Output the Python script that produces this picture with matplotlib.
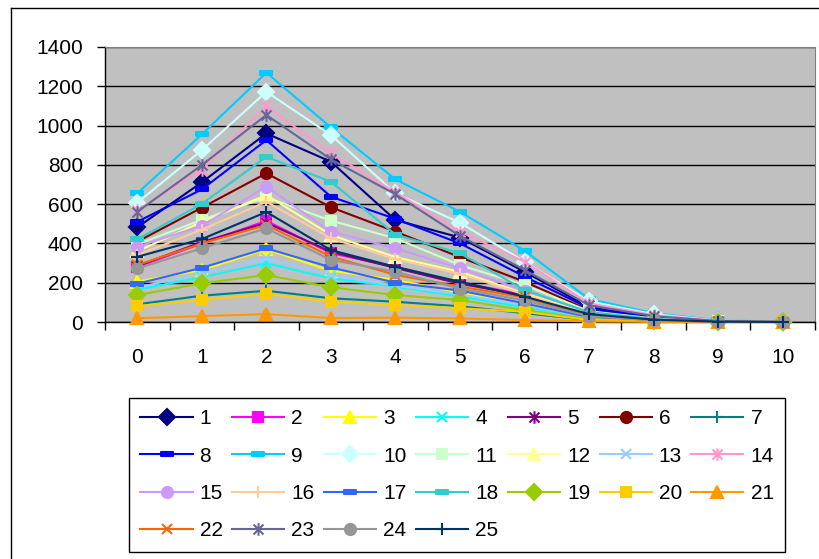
import matplotlib
matplotlib.use("Agg")
import matplotlib.pyplot as plt
from matplotlib.path import Path
from matplotlib.lines import Line2D

plt.rcParams['font.family'] = ['Liberation Sans', 'DejaVu Sans']

x_vals = list(range(11))
x_labels = [str(v) for v in x_vals]
y_ticks = [0, 200, 400, 600, 800, 1000, 1200, 1400]

s1 = [482, 711, 960, 816, 519, 430, 256, 75, 25, 5, 2]
s2 = [280, 400, 515, 351, 280, 200, 140, 35, 10, 2, 0]
s3 = [205, 265, 370, 261, 214, 150, 95, 25, 7, 1, 0]
s4 = [165, 228, 299, 222, 180, 130, 75, 20, 6, 1, 0]
s5 = [285, 407, 505, 358, 275, 195, 135, 35, 10, 2, 0]
s6 = [409, 582, 757, 584, 460, 330, 205, 60, 20, 3, 0]
s7 = [90, 134, 159, 121, 103, 80, 45, 10, 3, 1, 0]
s8 = [510, 675, 926, 638, 525, 400, 231, 70, 22, 4, 1]
s9 = [655, 955, 1269, 991, 726, 561, 363, 117, 45, 8, 2]
s10 = [607, 875, 1172, 952, 655, 505, 307, 105, 40, 7, 2]
s11 = [395, 520, 635, 516, 426, 290, 188, 55, 18, 3, 0]
s12 = [360, 509, 646, 443, 330, 255, 145, 45, 14, 2, 0]
s13 = [175, 248, 324, 239, 185, 140, 85, 20, 6, 1, 0]
s14 = [570, 774, 1099, 859, 660, 460, 307, 95, 35, 6, 1]
s15 = [383, 490, 689, 460, 375, 273, 160, 50, 15, 3, 0]
s16 = [340, 470, 612, 426, 320, 245, 140, 40, 12, 2, 0]
s17 = [195, 276, 375, 278, 200, 160, 95, 25, 7, 1, 0]
s18 = [421, 601, 841, 714, 445, 350, 163, 50, 15, 3, 0]
s19 = [137, 197, 239, 177, 137, 112, 60, 15, 4, 1, 0]
s20 = [81, 112, 143, 103, 87, 70, 52, 10, 3, 1, 0]
s21 = [19, 30, 40, 20, 22, 18, 10, 3, 1, 0, 0]
s22 = [290, 400, 494, 333, 240, 180, 125, 30, 9, 1, 0]
s23 = [561, 799, 1054, 828, 650, 438, 265, 85, 30, 5, 1]
s24 = [273, 375, 477, 316, 256, 170, 110, 30, 9, 1, 0]
s25 = [332, 422, 560, 366, 281, 205, 129, 40, 12, 2, 0]

series = [s1, s2, s3, s4, s5, s6, s7, s8, s9, s10, s11, s12, s13,
          s14, s15, s16, s17, s18, s19, s20, s21, s22, s23, s24, s25]
names = [str(i) for i in range(1, 26)]

colors = ['#000080', '#FF00FF', '#FFFF00', '#00FFFF', '#800080', '#800000',
          '#008080', '#0000FF', '#00CCFF', '#CCFFFF', '#CCFFCC', '#FFFF99',
          '#99CCFF', '#FF99CC', '#CC99FF', '#FFCC99', '#3366FF', '#33CCCC',
          '#99CC00', '#FFCC00', '#FF9900', '#FF6600', '#666699', '#969696',
          '#003366']

# short horizontal bar and asterisk markers
dash = Path([(-1, -0.3), (1, -0.3), (1, 0.3), (-1, 0.3), (-1, -0.3)],
            [Path.MOVETO, Path.LINETO, Path.LINETO, Path.LINETO, Path.CLOSEPOLY])
star = Path([(0, -1), (0, 1), (-0.8, -0.8), (0.8, 0.8), (-0.8, 0.8), (0.8, -0.8)],
            [Path.MOVETO, Path.LINETO, Path.MOVETO, Path.LINETO, Path.MOVETO, Path.LINETO])

marker_cycle = [('D', 8), ('s', 7), ('^', 8), ('x', 7), (star, 9),
                ('o', 8), ('+', 9), (dash, 8), (dash, 8)]

W, H = 819, 559
fig = plt.figure(figsize=(W / 100, H / 100), dpi=100)
ax = fig.add_axes([105 / W, 1 - 322 / H, (815 - 105) / W, (322 - 47) / H])
ax.set_facecolor('#C0C0C0')

handles = []
for i, (vals, name, col) in enumerate(zip(series, names, colors)):
    mk, ms = marker_cycle[i % len(marker_cycle)]
    ln, = ax.plot(x_vals, vals, color=col, lw=1.5, marker=mk, ms=ms,
                  mfc=col, mec=col, mew=1.5, label=name, clip_on=False,
                  zorder=3 + i * 0.01)
    handles.append(ln)

ax.set_xlim(-0.5, 10.5)
ax.set_ylim(0, 1400)
ax.set_yticks(y_ticks)
ax.set_yticklabels([str(v) for v in y_ticks])
ax.yaxis.grid(True, color='black', lw=1.0)
ax.set_axisbelow(True)
ax.set_xticks([v - 0.5 for v in x_vals] + [10.5])
ax.set_xticklabels([])
ax.set_xticks(x_vals, minor=True)
ax.set_xticklabels(x_labels, minor=True)
ax.tick_params(axis='x', which='major', length=6, width=1, direction='out', color='black')
ax.tick_params(axis='x', which='minor', length=0, pad=19, labelsize=15)
ax.tick_params(axis='y', which='major', length=6, width=1, direction='out', pad=10, labelsize=15)
for side in ('left', 'bottom'):
    ax.spines[side].set_color('black')
    ax.spines[side].set_linewidth(1.0)
for side in ('top', 'right'):
    ax.spines[side].set_color('#808080')
    ax.spines[side].set_linewidth(0.8)

# legend filled row by row, 7 entries per row
ncol = 7
order = []
for c in range(ncol):
    order.extend(range(c, len(handles), ncol))
leg = fig.legend([handles[k] for k in order], [names[k] for k in order],
                 loc='upper left', bbox_to_anchor=(129 / W, 1 - 398 / H),
                 bbox_transform=fig.transFigure, ncol=ncol, fontsize=15,
                 frameon=True, fancybox=False, edgecolor='black', framealpha=1,
                 borderpad=0.55, borderaxespad=0, handlelength=2.5,
                 handletextpad=0.34, columnspacing=0.45, labelspacing=0.88)
leg.get_frame().set_linewidth(1.0)

# chart area border
fig.add_artist(Line2D([11 / W, 11 / W], [1 - 8 / H, 0], transform=fig.transFigure,
                      color='black', lw=1.0))
fig.add_artist(Line2D([11 / W, 1], [1 - 8 / H, 1 - 8 / H], transform=fig.transFigure,
                      color='black', lw=1.0))

fig.savefig('out.png', dpi=100)
